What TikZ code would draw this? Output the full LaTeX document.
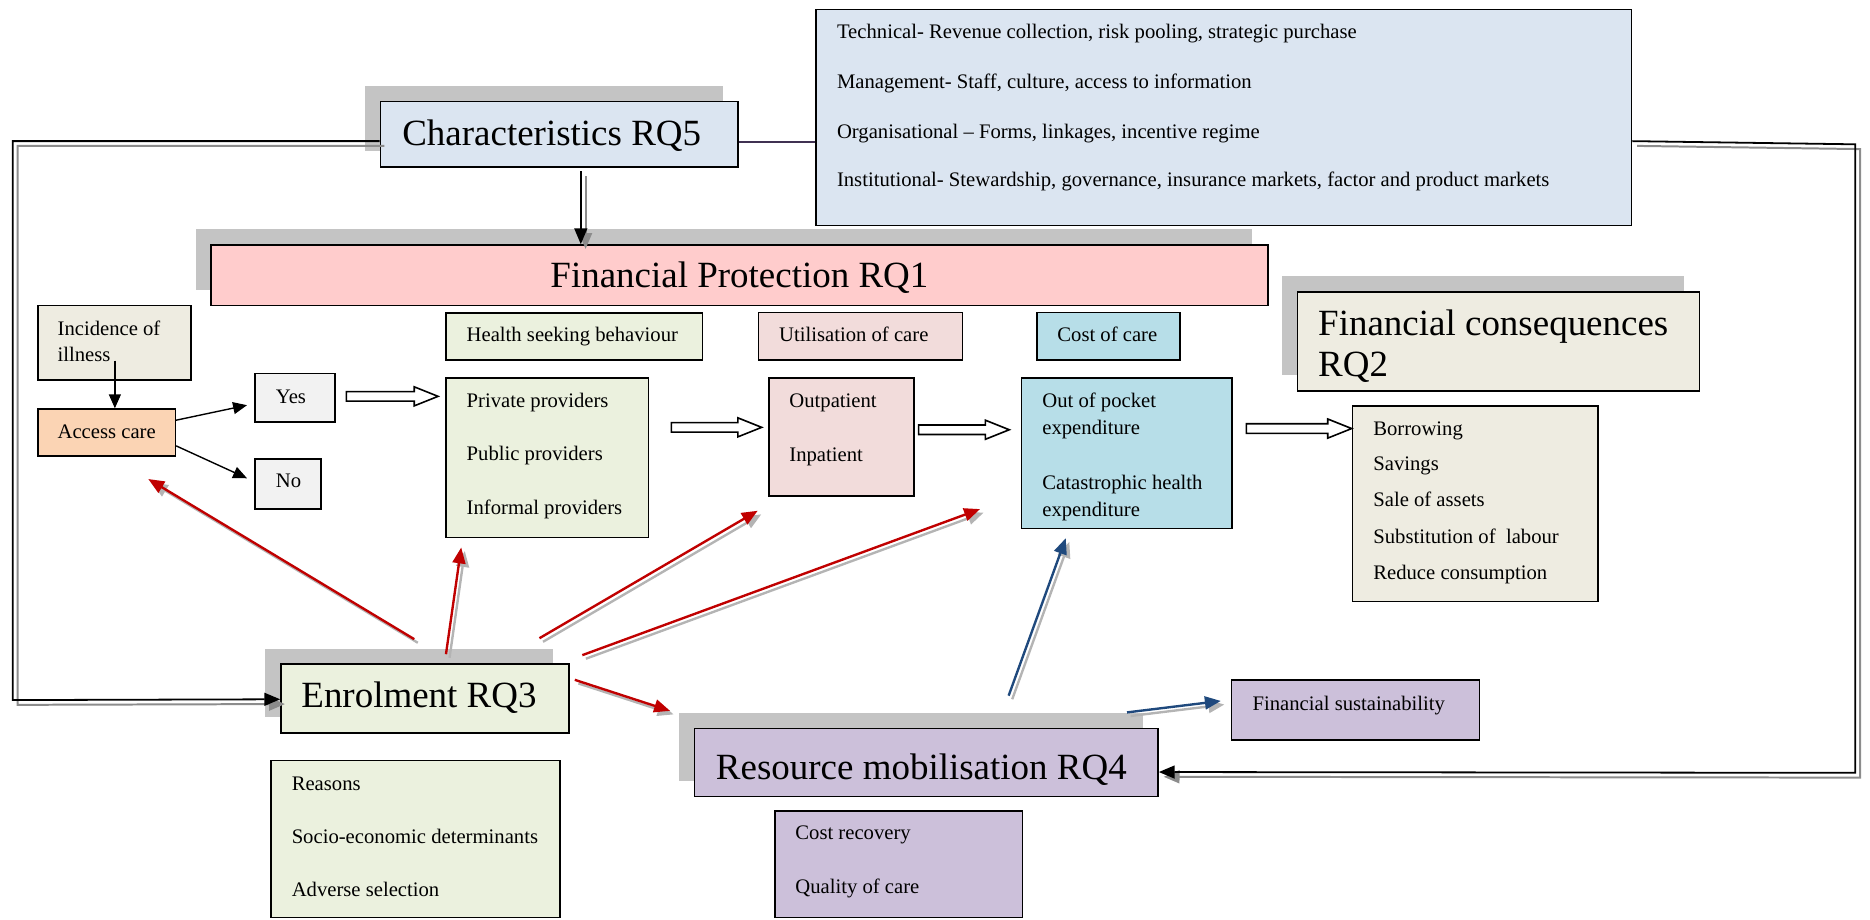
\documentclass[tikz,border=0pt]{standalone}
\usepackage{fontspec}
\setmainfont{Liberation Serif}
\usetikzlibrary{arrows.meta,calc,fit,shadows}

\definecolor{paleblue}{HTML}{DBE5F1}
\definecolor{palepink}{HTML}{FFCCCC}
\definecolor{stone}{HTML}{EEECE1}
\definecolor{peach}{HTML}{FBD4B4}
\definecolor{offwhite}{HTML}{F2F2F2}
\definecolor{palegreen}{HTML}{EBF1DE}
\definecolor{rose}{HTML}{F2DCDB}
\definecolor{aqua}{HTML}{B7DEE8}
\definecolor{lilac}{HTML}{CCC0DA}
\definecolor{deepred}{HTML}{C00000}
\definecolor{deepblue}{HTML}{1F497D}
\definecolor{plum}{HTML}{403152}
\definecolor{boxshade}{HTML}{C4C4C4}
\definecolor{lineshade}{HTML}{B4B4B4}
\definecolor{loopshade}{HTML}{8C8C8C}

\newcommand\bigtext{\fontsize{18.6}{19.2}\selectfont}
\newcommand\smalltext{\fontsize{10.4}{13}\selectfont}

% an arrow with a light grey copy offset below right
\newcommand\ShadedArrow[3]{%
  \draw[#1,draw=lineshade,transform canvas={xshift=1.8pt,yshift=-1.8pt}] #2 -- #3;
  \draw[#1] #2 -- #3;}

% hollow block arrow between two named coordinates
\newcommand\BlockArrow[2]{%
  \draw[hollow] ($(#1)+(0,-4)$) -- ($(#2)+(-20,-4)$) -- ($(#2)+(-20,-8)$) -- (#2)
    -- ($(#2)+(-20,8)$) -- ($(#2)+(-20,4)$) -- ($(#1)+(0,4)$) -- cycle;}

\begin{document}
\begin{tikzpicture}[x=0.6pt,y=-0.6pt,
  box/.style={draw=black, line width=0.8pt, inner sep=0pt, rectangle},
  raised/.style={drop shadow={shadow xshift=-7.8pt, shadow yshift=7.8pt, opacity=1, fill=boxshade}},
  txt/.style={inner sep=0pt, anchor=base west, font=\smalltext},
  title/.style={inner sep=0pt, anchor=base west, font=\bigtext},
  redarrow/.style={draw=deepred, line width=1.2pt, -{Triangle[length=8pt,width=6.5pt]}},
  bluearrow/.style={draw=deepblue, line width=1.2pt, -{Triangle[length=8pt,width=6.5pt]}},
  thinarrow/.style={draw=black, line width=0.7pt, -{Triangle[length=7pt,width=6pt]}},
  loopline/.style={draw=black, line width=0.9pt},
  loopshadow/.style={draw=loopshade, line width=1pt, transform canvas={xshift=2.4pt,yshift=-2.4pt}},
  looptip/.style={-{Triangle[length=8pt,width=6.5pt]}},
  hollow/.style={draw=black, line width=0.8pt, fill=white, line join=miter}]

\useasboundingbox (0,0) rectangle (1568,771);

% ---------- boxes ----------
\node[box, fill=paleblue, fit={(684,8) (1368,189)}] (tech) {};
\node[box, raised, fill=paleblue, fit={(319,85) (619,140)}] (char) {};
\node[box, raised, fill=palepink, fit={(177,205.4) (1063,256.3)}] (fp) {};
\node[box, fill=stone, fit={(32,256) (160,318.6)}] (inc) {};
\node[box, fill=peach, fit={(32,343) (147,382.4)}] (acc) {};
\node[box, fill=offwhite, fit={(213.8,313) (280.8,353.6)}] (yes) {};
\node[box, fill=offwhite, fit={(213.8,385) (269,426.8)}] (no) {};
\node[box, fill=palegreen, fit={(374,262.2) (589,302)}] (hsb) {};
\node[box, fill=palegreen, fit={(374,316.7) (543.6,450.8)}] (prov) {};
\node[box, fill=rose, fit={(636,262) (807,302)}] (util) {};
\node[box, fill=rose, fit={(644.8,316.7) (766.6,415.9)}] (outp) {};
\node[box, fill=aqua, fit={(869.3,262) (989.5,302)}] (coc) {};
\node[box, fill=aqua, fit={(856.6,316.7) (1032.9,443.3)}] (oop) {};
\node[box, raised, fill=stone, fit={(1088,244.6) (1425,327.6)}] (fc) {};
\node[box, fill=stone, fit={(1134,340.4) (1340,504.5)}] (bor) {};
\node[box, raised, fill=palegreen, fit={(235.6,556.8) (477,614.4)}] (enr) {};
\node[box, fill=palegreen, fit={(227.3,637.8) (469.6,769.3)}] (rea) {};
\node[box, raised, fill=lilac, fit={(582.3,610.7) (971,668)}] (rm) {};
\node[box, fill=lilac, fit={(650,680) (857.4,769.3)}] (cr) {};
\node[box, fill=lilac, fit={(1032.7,570.2) (1240.7,620.5)}] (fs) {};

% ---------- texts ----------
\node[txt] (tech1) at (701.5,32.1) {Technical- Revenue collection, risk pooling, strategic purchase};
\node[txt] (tech2) at (701.5,74.1) {Management- Staff, culture, access to information};
\node[txt] (tech3) at (701.5,116) {Organisational -- Forms, linkages, incentive regime};
\node[txt] (tech4) at (701.5,156.5) {Institutional- Stewardship, governance, insurance markets, factor and product markets};

\node[title] (charT) at (337,121.6) {Characteristics RQ5};
\node[title, anchor=base] (fpT) at ($(fp.north)+(0,36.1)$) {Financial Protection RQ1};
\node[title] (fcT1) at (1105,281) {Financial consequences};
\node[title] (fcT2) at (1105,315.8) {RQ2};
\node[title] (enrT) at (252.4,593.1) {Enrolment RQ3};
\node[title] (rmT) at (600,654) {Resource mobilisation RQ4};

\node[txt] (inc1) at (48,281) {Incidence of};
\node[txt] (inc2) at (48,303.3) {illness};
\node[txt] (accT) at (48,367.4) {Access care};
\node[txt] (yesT) at (231,338) {Yes};
\node[txt] (noT) at (231,409) {No};

\node[txt] (hsbT) at (391,286.5) {Health seeking behaviour};
\node[txt] (prov1) at (391,341.5) {Private providers};
\node[txt] (prov2) at (391,386.3) {Public providers};
\node[txt] (prov3) at (391,431) {Informal providers};

\node[txt] (utilT) at (653,286.5) {Utilisation of care};
\node[txt] (outp1) at (661.6,341.5) {Outpatient};
\node[txt] (outp2) at (661.6,387) {Inpatient};

\node[txt] (cocT) at (886.3,286.5) {Cost of care};
\node[txt] (oop1) at (873.7,341.5) {Out of pocket};
\node[txt] (oop2) at (873.7,364) {expenditure};
\node[txt] (oop3) at (873.7,410.3) {Catastrophic health};
\node[txt] (oop4) at (873.7,432.7) {expenditure};

\node[txt] (bor1) at (1151.2,364.8) {Borrowing};
\node[txt] (bor2) at (1151.2,394.7) {Savings};
\node[txt] (bor3) at (1151.2,424.8) {Sale of assets};
\node[txt] (bor4) at (1151.2,455.6) {Substitution of\ \ labour};
\node[txt] (bor5) at (1151.2,485.5) {Reduce consumption};

\node[txt] (rea1) at (244.3,663) {Reasons};
\node[txt] (rea2) at (244.3,707.1) {Socio-economic determinants};
\node[txt] (rea3) at (244.3,751.9) {Adverse selection};

\node[txt] (cr1) at (666.6,704.3) {Cost recovery};
\node[txt] (cr2) at (666.6,749) {Quality of care};

\node[txt] (fsT) at (1050,595.4) {Financial sustainability};

% ---------- feedback loops ----------
\coordinate (lA) at ($(char.north west)+(0,34)$);
\coordinate (lB) at (10.7,587);
\coordinate (lC) at ($(enr.north west)+(0,30.2)$);
\draw[loopshadow, looptip] (lA) -| (lB) -- (lC);
\draw[loopline, looptip] (lA) -| (lB) -- (lC);

\coordinate (rA) at ($(tech.north east)+(0,111)$);
\coordinate (rB) at (1555.6,121);
\coordinate (rC) at (1555.6,648);
\coordinate (rD) at ($(rm.north east)+(0,37.3)$);
\draw[loopshadow, looptip] (rA) -- (rB) -- (rC) -- (rD);
\draw[loopline, looptip] (rA) -- (rB) -- (rC) -- (rD);

\draw[draw=plum, line width=0.8pt] ($(char.north east)+(0,34.5)$) -- ($(tech.north west)+(0,111.5)$);

\coordinate (cA) at ($(char.south)+(18,3)$);
\draw[loopshadow, looptip] (cA) -- (cA |- fp.north);
\draw[loopline, looptip] (cA) -- (cA |- fp.north);

% ---------- access path ----------
\draw[thinarrow] ($(inc.north west)+(65,47)$) -- ($(acc.north west)+(65,0)$);
\draw[thinarrow] ($(acc.north east)+(0,10)$) -- ($(yes.north west)+(-6,27.4)$);
\draw[thinarrow] ($(acc.north east)+(0,31.5)$) -- ($(no.north west)+(-6,16.7)$);

% ---------- hollow flow arrows ----------
\coordinate (h1s) at ($(yes.north east)+(9,20)$);
\coordinate (h1e) at ($(prov.north west)+(-6,16.3)$);
\BlockArrow{h1s}{h1e}
\coordinate (h2s) at ($(prov.north east)+(18.7,42.3)$);
\coordinate (h2e) at ($(outp.north west)+(-5.5,42.3)$);
\BlockArrow{h2s}{h2e}
\coordinate (h3s) at ($(outp.north east)+(3,44.3)$);
\coordinate (h3e) at ($(oop.north west)+(-9.7,44.3)$);
\BlockArrow{h3s}{h3e}
\coordinate (h4s) at ($(oop.north east)+(11.5,43.3)$);
\coordinate (h4e) at ($(bor.north west)+(0,19.6)$);
\BlockArrow{h4s}{h4e}

% ---------- enrolment effects ----------
\ShadedArrow{redarrow}{($(enr.north west)+(112.4,-20.2)$)}{($(acc.south west)+(93,18.6)$)}
\ShadedArrow{redarrow}{($(enr.north west)+(139,-7.6)$)}{($(prov.south west)+(13.4,7.6)$)}
\ShadedArrow{redarrow}{($(enr.north west)+(217.4,-21)$)}{($(outp.south west)+(-8.8,11.7)$)}
\ShadedArrow{redarrow}{($(enr.north east)+(10.6,-6.8)$)}{($(oop.south west)+(-34.2,-17.1)$)}
\ShadedArrow{redarrow}{($(enr.north east)+(4.3,13.9)$)}{($(rm.north west)+(-19.8,-14)$)}

% ---------- resource mobilisation effects ----------
\ShadedArrow{bluearrow}{($(rm.north west)+(264.1,-26.7)$)}{($(oop.south west)+(37.7,7.3)$)}
\ShadedArrow{bluearrow}{($(rm.north west)+(363.4,-12.7)$)}{($(fs.north west)+(-8.4,18.2)$)}

\end{tikzpicture}
\end{document}
